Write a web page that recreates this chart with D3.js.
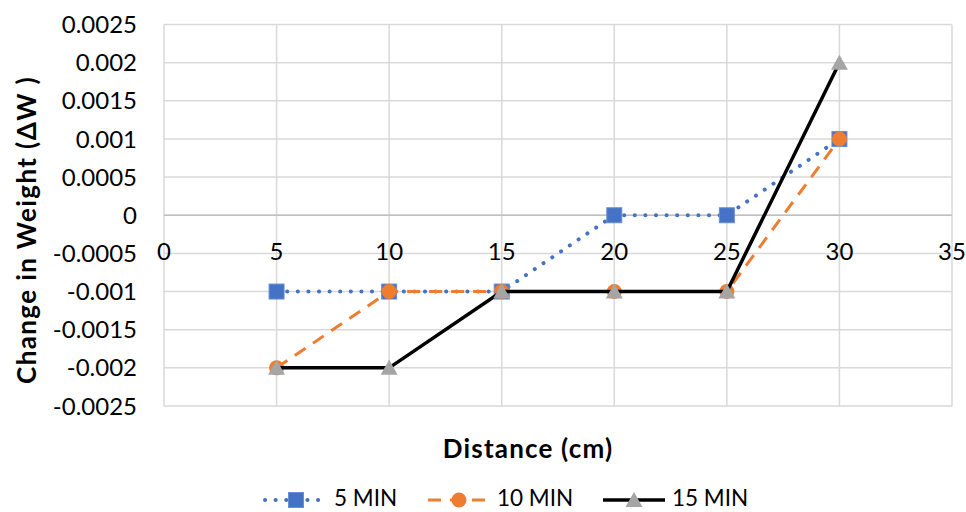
<!DOCTYPE html>
<html><head><meta charset="utf-8">
<script src="https://cdn.jsdelivr.net/npm/d3@7"></script>
<style>body{margin:0;background:#fff;} svg{display:block;font-family:Lato,"Open Sans",sans-serif;}</style>
</head><body><svg id="c" width="966" height="512"></svg>
<script>
const distances = [5, 10, 15, 20, 25, 30];
const min5 = [-0.001, -0.001, -0.001, 0, 0, 0.001];
const min10 = [-0.002, -0.001, -0.001, -0.001, -0.001, 0.001];
const min15 = [-0.002, -0.002, -0.001, -0.001, -0.001, 0.002];
const seriesNames = ["5 MIN", "10 MIN", "15 MIN"];
const xTicks = [0, 5, 10, 15, 20, 25, 30, 35];
const yTicks = [-0.0025, -0.002, -0.0015, -0.001, -0.0005, 0, 0.0005, 0.001, 0.0015, 0.002, 0.0025];

const svg = d3.select("#c");
const L = 164, R = 952, T = 24.5, B = 406;
const x = d3.scaleLinear().domain([0, 35]).range([L, R]);
const y = d3.scaleLinear().domain([-0.0025, 0.0025]).range([B, T]);

// gridlines
svg.append("g").selectAll("line").data(yTicks).join("line")
  .attr("x1", L).attr("x2", R).attr("y1", d => y(d)).attr("y2", d => y(d))
  .attr("stroke", "#d9d9d9").attr("stroke-width", 1.5);
svg.append("g").selectAll("line").data(xTicks).join("line")
  .attr("y1", T).attr("y2", B).attr("x1", d => x(d)).attr("x2", d => x(d))
  .attr("stroke", "#d9d9d9").attr("stroke-width", 1.5);
// zero axis
svg.append("line").attr("x1", L).attr("x2", R).attr("y1", y(0)).attr("y2", y(0))
  .attr("stroke", "#bfbfbf").attr("stroke-width", 1.5);

// y tick labels
const fmt = d => d === 0 ? "0" : String(+d.toFixed(4));
svg.append("g").selectAll("text").data(yTicks).join("text")
  .attr("x", 137).attr("y", d => y(d)).attr("dy", "0.36em")
  .attr("text-anchor", "end").attr("font-size", 24).attr("fill", "#000")
  .text(fmt);
// x tick labels
svg.append("g").selectAll("text").data(xTicks).join("text")
  .attr("x", d => x(d)).attr("y", y(0) + 45)
  .attr("text-anchor", "middle").attr("font-size", 24).attr("fill", "#000")
  .text(d => d);

// titles
svg.append("text").attr("x", 528).attr("y", 458).attr("text-anchor", "middle")
  .attr("font-size", 26).attr("font-weight", "bold").attr("letter-spacing", 1.2)
  .text("Distance (cm)");
svg.append("text").attr("transform", `translate(36,230) rotate(-90)`)
  .attr("text-anchor", "middle").attr("font-size", 26).attr("font-weight", "bold")
  .attr("letter-spacing", 1.4)
  .text("Change in Weight (ΔW )");

const styles = [
  {color: "#4472C4", dash: "0.1 10.5", cap: "round", width: 4, marker: "square"},
  {color: "#ED7D31", dash: "13 9", cap: "butt", width: 3, marker: "circle"},
  {color: "#000000", dash: null, cap: "butt", width: 3.5, marker: "triangle"}
];
const allSeries = [min5, min10, min15];
const line = d3.line().x((d, i) => x(distances[i])).y(d => y(d));

function drawMarker(g, type, cx, cy) {
  if (type === "square") {
    g.append("rect").attr("x", cx - 7.5).attr("y", cy - 7.5).attr("width", 15).attr("height", 15)
      .attr("fill", "#4472C4").attr("stroke", "#6a8fd3").attr("stroke-width", 1);
  } else if (type === "circle") {
    g.append("circle").attr("cx", cx).attr("cy", cy).attr("r", 7.5).attr("fill", "#ED7D31");
  } else {
    g.append("path").attr("d", `M${cx},${cy - 8}L${cx + 8.5},${cy + 7}L${cx - 8.5},${cy + 7}Z`)
      .attr("fill", "#A5A5A5");
  }
}

allSeries.forEach((vals, si) => {
  const s = styles[si];
  const g = svg.append("g");
  g.append("path").attr("d", line(vals)).attr("fill", "none")
    .attr("stroke", s.color).attr("stroke-width", s.width)
    .attr("stroke-dasharray", s.dash).attr("stroke-linecap", s.cap);
  vals.forEach((v, i) => drawMarker(g, s.marker, x(distances[i]), y(v)));
});

// legend
const legX = [265, 428, 603];
const ly = 500;
seriesNames.forEach((name, si) => {
  const s = styles[si];
  const g = svg.append("g");
  const x0 = legX[si], x1 = x0 + 62;
  g.append("line").attr("x1", x0).attr("x2", x1).attr("y1", ly).attr("y2", ly)
    .attr("stroke", s.color).attr("stroke-width", s.width)
    .attr("stroke-dasharray", s.dash).attr("stroke-linecap", s.cap);
  drawMarker(g, s.marker, (x0 + x1) / 2, ly);
  g.append("text").attr("x", x1 + 7).attr("y", 506)
    .attr("font-size", 22.5).text(name);
});
</script></body></html>
